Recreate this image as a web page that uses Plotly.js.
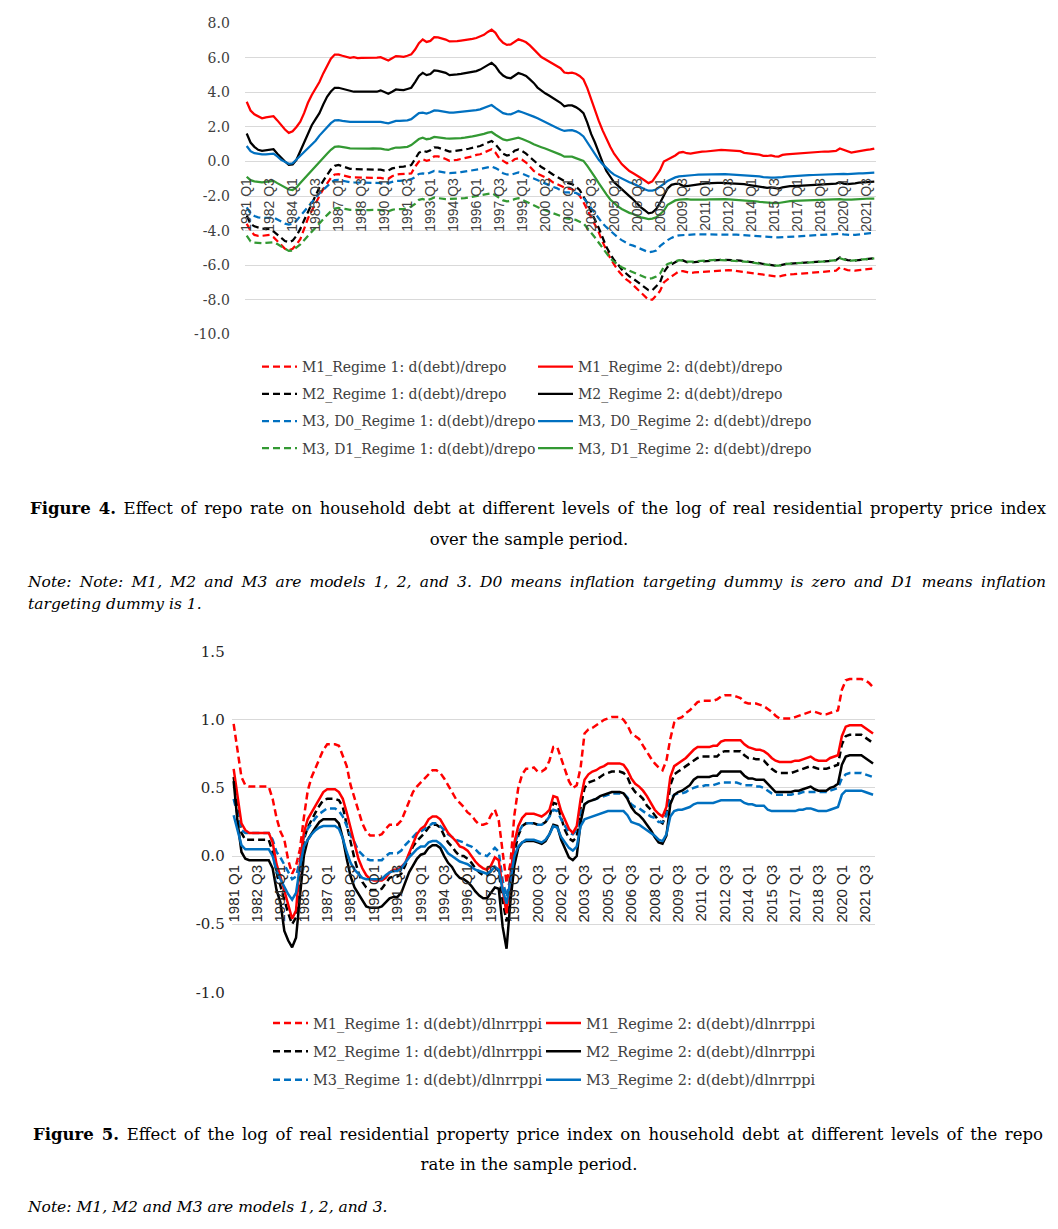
<!DOCTYPE html>
<html>
<head>
<meta charset="utf-8">
<script src="https://cdn.plot.ly/plotly-3.0.1.min.js"></script>
<style>
  html, body { margin:0; padding:0; background:#fff; }
  #page { position:relative; width:1058px; height:1229px; overflow:hidden; background:#fff; }
  #chart { position:absolute; left:0; top:0; width:1058px; height:1229px; }
  .cap { position:absolute; font-family:"DejaVu Serif", serif; color:#000; white-space:nowrap; }
  .just { text-align:justify; text-align-last:justify; white-space:normal; }
  .center { text-align:center; }
</style>
</head>
<body>
<div id="page">
  <div id="chart"></div>
  <div class="cap just" style="left:30px; top:497px; width:1016px; font-size:16.5px; line-height:24px;"><b>Figure 4.</b> Effect of repo rate on household debt at different levels of the log of real residential property price index</div>
  <div class="cap center" style="left:0px; top:528px; width:1058px; font-size:16.5px; line-height:24px;">over the sample period.</div>
  <div class="cap just" style="left:28px; top:571px; width:1018px; font-size:15.5px; line-height:22px; font-style:italic;">Note: Note: M1, M2 and M3 are models 1, 2, and 3. D0 means inflation targeting dummy is zero and D1 means inflation</div>
  <div class="cap" style="left:28px; top:593px; font-size:15.5px; line-height:22px; font-style:italic;">targeting dummy is 1.</div>
  <div class="cap just" style="left:33px; top:1123px; width:1010px; font-size:16.5px; line-height:24px;"><b>Figure 5.</b> Effect of the log of real residential property price index on household debt at different levels of the repo</div>
  <div class="cap center" style="left:0px; top:1153px; width:1058px; font-size:16.5px; line-height:24px;">rate in the sample period.</div>
  <div class="cap" style="left:28px; top:1196px; font-size:15.5px; line-height:22px; font-style:italic;">Note: M1, M2 and M3 are models 1, 2, and 3.</div>
</div>
<script>
// ---------- categories (quarters 1981 Q1 .. 2022 Q1) ----------
const firstYear = 1981, nQuarters = 165;
const quarters = [];
for (let k = 0; k < nQuarters; k++) {
  quarters.push((firstYear + Math.floor(k / 4)) + ' Q' + (k % 4 + 1));
}
const tickQuarters = quarters.filter((q, k) => k % 6 === 0);

// ---------- Figure 4 tick labels ----------
const fig4YTicks  = [-10, -8, -6, -4, -2, 0, 2, 4, 6, 8];
const fig4YLabels = ["-10.0", "-8.0", "-6.0", "-4.0", "-2.0", "0.0", "2.0", "4.0", "6.0", "8.0"];
// ---------- Figure 5 tick labels ----------
const fig5YTicks  = [-1, -0.5, 0, 0.5, 1, 1.5];
const fig5YLabels = ["-1.0", "-0.5", "0.0", "0.5", "1.0", "1.5"];

// ---------- Figure 4 series: d(debt)/drepo ----------
const m1_r1_drepo = [
 -3.6,-4.0,-4.25,-4.3,-4.3,-4.28,-4.25,-4.38,-4.6,-4.85,
 -5.05,-5.15,-5.05,-4.8,-4.5,-3.9,-3.3,-2.85,-2.4,-2.0,
 -1.6,-1.25,-0.95,-0.75,-0.73,-0.8,-0.87,-0.9,-0.92,-0.92,
 -0.92,-0.92,-0.92,-0.92,-0.92,-0.95,-1.0,-1.0,-0.85,-0.76,
 -0.73,-0.73,-0.72,-0.69,-0.3,0.0,0.13,0.04,0.1,0.3,
 0.3,0.23,0.15,0.04,0.05,0.1,0.15,0.2,0.23,0.3,
 0.38,0.42,0.52,0.62,0.71,0.52,0.2,0.04,-0.1,-0.05,
 0.13,0.19,0.1,-0.06,-0.3,-0.54,-0.7,-0.8,-0.9,-1.02,
 -1.2,-1.31,-1.42,-1.5,-1.55,-1.6,-1.75,-1.98,-2.35,-2.8,
 -3.25,-3.65,-4.1,-4.65,-5.15,-5.6,-5.95,-6.3,-6.55,-6.8,
 -6.95,-7.15,-7.35,-7.55,-7.75,-8.0,-8.0,-7.75,-7.5,-7.0,
 -6.8,-6.65,-6.5,-6.35,-6.35,-6.42,-6.45,-6.42,-6.4,-6.38,
 -6.36,-6.34,-6.32,-6.3,-6.28,-6.28,-6.28,-6.3,-6.33,-6.36,
 -6.4,-6.43,-6.46,-6.48,-6.52,-6.56,-6.6,-6.62,-6.65,-6.67,
 -6.6,-6.55,-6.53,-6.52,-6.5,-6.49,-6.47,-6.46,-6.44,-6.42,
 -6.4,-6.38,-6.37,-6.35,-6.32,-6.13,-6.22,-6.28,-6.3,-6.32,
 -6.28,-6.25,-6.22,-6.2,-6.19];
const m1_r2_drepo = [
 3.46,2.95,2.73,2.6,2.5,2.56,2.6,2.62,2.38,2.1,
 1.85,1.66,1.75,2.0,2.3,2.8,3.4,3.85,4.25,4.6,
 5.1,5.55,5.95,6.19,6.19,6.12,6.05,6.0,6.04,5.98,
 6.0,6.0,5.98,6.0,6.02,6.04,5.95,5.85,5.98,6.1,
 6.08,6.06,6.12,6.2,6.48,6.85,7.06,6.92,6.98,7.2,
 7.18,7.12,7.06,6.95,6.95,6.97,7.0,7.02,7.05,7.1,
 7.15,7.22,7.33,7.5,7.63,7.45,7.1,6.87,6.75,6.78,
 6.92,7.08,7.0,6.9,6.72,6.5,6.22,6.05,5.92,5.8,
 5.68,5.55,5.4,5.15,5.12,5.14,5.08,4.95,4.75,4.25,
 3.6,3.0,2.35,1.8,1.3,0.85,0.45,0.15,-0.15,-0.35,
 -0.55,-0.68,-0.8,-0.95,-1.1,-1.25,-1.15,-0.85,-0.5,0.0,
 0.12,0.2,0.35,0.52,0.55,0.48,0.46,0.5,0.55,0.57,
 0.58,0.61,0.62,0.64,0.67,0.66,0.64,0.62,0.61,0.6,
 0.5,0.48,0.47,0.46,0.4,0.33,0.32,0.36,0.3,0.29,
 0.38,0.42,0.44,0.46,0.48,0.48,0.5,0.52,0.52,0.54,
 0.56,0.58,0.58,0.6,0.61,0.75,0.66,0.6,0.52,0.56,
 0.61,0.64,0.67,0.7,0.75];
const m2_r1_drepo = [
 -3.13,-3.6,-3.75,-3.82,-3.88,-3.9,-3.9,-4.05,-4.25,-4.45,
 -4.6,-4.67,-4.58,-4.3,-3.9,-3.4,-2.9,-2.45,-1.95,-1.5,
 -1.12,-0.75,-0.45,-0.25,-0.2,-0.27,-0.36,-0.42,-0.44,-0.44,
 -0.44,-0.44,-0.44,-0.44,-0.44,-0.47,-0.53,-0.52,-0.4,-0.34,
 -0.31,-0.29,-0.26,-0.2,0.15,0.5,0.62,0.56,0.65,0.82,
 0.8,0.72,0.65,0.58,0.6,0.62,0.65,0.7,0.74,0.78,
 0.82,0.9,1.0,1.1,1.19,1.0,0.7,0.46,0.35,0.4,
 0.62,0.7,0.6,0.46,0.25,0.05,-0.15,-0.32,-0.45,-0.62,
 -0.75,-0.88,-1.0,-1.15,-1.25,-1.31,-1.45,-1.65,-2.05,-2.4,
 -2.9,-3.35,-3.85,-4.4,-4.95,-5.35,-5.7,-5.95,-6.25,-6.45,
 -6.65,-6.78,-6.95,-7.12,-7.27,-7.45,-7.45,-7.25,-7.0,-6.4,
 -6.1,-5.95,-5.82,-5.7,-5.72,-5.82,-5.84,-5.82,-5.8,-5.78,
 -5.75,-5.72,-5.7,-5.69,-5.69,-5.69,-5.69,-5.7,-5.72,-5.74,
 -5.76,-5.78,-5.8,-5.84,-5.88,-5.93,-5.97,-6.0,-6.02,-6.03,
 -5.97,-5.93,-5.91,-5.9,-5.88,-5.87,-5.85,-5.84,-5.82,-5.8,
 -5.79,-5.78,-5.76,-5.74,-5.71,-5.55,-5.65,-5.71,-5.72,-5.74,
 -5.7,-5.67,-5.65,-5.62,-5.59];
const m2_r2_drepo = [
 1.62,1.1,0.85,0.68,0.62,0.65,0.68,0.71,0.45,0.2,
 0.0,-0.19,-0.17,0.1,0.6,1.1,1.6,2.1,2.45,2.8,
 3.3,3.75,4.05,4.27,4.27,4.22,4.17,4.08,4.04,4.04,
 4.04,4.02,4.02,4.03,4.04,4.12,4.0,3.92,4.04,4.17,
 4.15,4.13,4.2,4.27,4.6,4.95,5.13,5.0,5.06,5.27,
 5.25,5.2,5.13,5.0,5.0,5.04,5.07,5.1,5.15,5.2,
 5.23,5.32,5.45,5.6,5.71,5.52,5.2,4.98,4.85,4.82,
 4.98,5.12,5.05,4.95,4.75,4.55,4.28,4.1,3.95,3.82,
 3.68,3.55,3.4,3.2,3.25,3.25,3.15,3.0,2.8,2.25,
 1.6,1.1,0.5,-0.05,-0.55,-0.9,-1.2,-1.4,-1.62,-1.8,
 -2.0,-2.2,-2.45,-2.65,-2.82,-3.0,-2.95,-2.75,-2.4,-1.95,
 -1.55,-1.35,-1.3,-1.3,-1.41,-1.42,-1.4,-1.36,-1.32,-1.3,
 -1.27,-1.25,-1.25,-1.24,-1.24,-1.25,-1.25,-1.25,-1.25,-1.27,
 -1.31,-1.35,-1.38,-1.41,-1.45,-1.5,-1.52,-1.5,-1.55,-1.56,
 -1.5,-1.45,-1.43,-1.42,-1.41,-1.4,-1.39,-1.38,-1.37,-1.36,
 -1.35,-1.33,-1.32,-1.3,-1.28,-1.2,-1.28,-1.31,-1.3,-1.26,
 -1.22,-1.21,-1.2,-1.18,-1.16];
const m3d0_r1_drepo = [
 -2.65,-3.0,-3.15,-3.23,-3.26,-3.27,-3.25,-3.23,-3.35,-3.48,
 -3.6,-3.65,-3.6,-3.42,-3.15,-2.85,-2.6,-2.35,-2.1,-1.85,
 -1.63,-1.42,-1.22,-1.08,-1.06,-1.11,-1.16,-1.2,-1.21,-1.21,
 -1.21,-1.21,-1.21,-1.21,-1.21,-1.22,-1.24,-1.25,-1.18,-1.12,
 -1.12,-1.12,-1.08,-1.02,-0.9,-0.72,-0.69,-0.73,-0.65,-0.54,
 -0.57,-0.62,-0.65,-0.67,-0.67,-0.64,-0.61,-0.58,-0.55,-0.5,
 -0.46,-0.44,-0.38,-0.33,-0.29,-0.38,-0.5,-0.68,-0.75,-0.77,
 -0.7,-0.63,-0.7,-0.8,-0.88,-0.97,-1.06,-1.16,-1.28,-1.37,
 -1.46,-1.54,-1.65,-1.78,-1.79,-1.79,-1.82,-1.92,-2.1,-2.4,
 -2.7,-3.0,-3.3,-3.58,-3.8,-4.0,-4.25,-4.4,-4.55,-4.68,
 -4.8,-4.87,-4.97,-5.05,-5.15,-5.25,-5.22,-5.15,-4.9,-4.72,
 -4.55,-4.42,-4.32,-4.27,-4.25,-4.24,-4.23,-4.22,-4.22,-4.22,
 -4.21,-4.21,-4.2,-4.2,-4.2,-4.2,-4.21,-4.22,-4.23,-4.25,
 -4.27,-4.29,-4.31,-4.33,-4.35,-4.37,-4.38,-4.39,-4.39,-4.39,
 -4.37,-4.35,-4.34,-4.34,-4.33,-4.32,-4.31,-4.3,-4.29,-4.28,
 -4.27,-4.26,-4.25,-4.23,-4.2,-4.18,-4.22,-4.25,-4.26,-4.24,
 -4.21,-4.19,-4.17,-4.15,-4.14];
const m3d0_r2_drepo = [
 0.9,0.6,0.48,0.44,0.42,0.42,0.44,0.46,0.3,0.1,
 -0.02,-0.13,-0.1,0.12,0.35,0.58,0.8,1.0,1.2,1.5,
 1.75,2.0,2.22,2.38,2.4,2.35,2.31,2.29,2.29,2.29,
 2.29,2.29,2.3,2.3,2.31,2.3,2.25,2.21,2.28,2.35,
 2.35,2.35,2.38,2.45,2.62,2.8,2.83,2.77,2.85,2.96,
 2.94,2.9,2.86,2.83,2.83,2.85,2.86,2.88,2.9,2.93,
 2.97,3.02,3.1,3.2,3.27,3.1,2.95,2.8,2.74,2.73,
 2.82,2.92,2.85,2.78,2.7,2.6,2.5,2.38,2.27,2.16,
 2.05,1.95,1.85,1.77,1.8,1.81,1.75,1.63,1.45,1.1,
 0.75,0.45,0.1,-0.15,-0.38,-0.58,-0.76,-0.88,-1.0,-1.1,
 -1.2,-1.28,-1.4,-1.5,-1.6,-1.69,-1.68,-1.62,-1.48,-1.3,
 -1.12,-1.0,-0.92,-0.86,-0.83,-0.81,-0.79,-0.78,-0.76,-0.75,
 -0.74,-0.73,-0.73,-0.73,-0.73,-0.73,-0.74,-0.75,-0.77,-0.79,
 -0.8,-0.81,-0.82,-0.83,-0.86,-0.9,-0.93,-0.93,-0.93,-0.93,
 -0.9,-0.87,-0.85,-0.83,-0.82,-0.81,-0.8,-0.79,-0.78,-0.77,
 -0.76,-0.75,-0.74,-0.72,-0.7,-0.69,-0.71,-0.73,-0.73,-0.71,
 -0.69,-0.68,-0.67,-0.65,-0.64];
const m3d1_r1_drepo = [
 -4.29,-4.62,-4.7,-4.73,-4.73,-4.71,-4.69,-4.67,-4.78,-4.92,
 -5.07,-5.17,-5.15,-5.0,-4.8,-4.55,-4.3,-4.05,-3.8,-3.55,
 -3.33,-3.1,-2.88,-2.72,-2.69,-2.71,-2.76,-2.8,-2.81,-2.81,
 -2.81,-2.81,-2.81,-2.8,-2.79,-2.81,-2.86,-2.88,-2.8,-2.75,
 -2.75,-2.75,-2.7,-2.6,-2.45,-2.22,-2.17,-2.25,-2.18,-2.08,
 -2.12,-2.16,-2.17,-2.17,-2.17,-2.15,-2.13,-2.12,-2.08,-2.03,
 -2.0,-1.98,-1.93,-1.87,-1.83,-1.95,-2.1,-2.25,-2.31,-2.27,
 -2.18,-2.12,-2.22,-2.33,-2.45,-2.56,-2.65,-2.74,-2.82,-2.9,
 -2.97,-3.04,-3.15,-3.27,-3.3,-3.32,-3.38,-3.48,-3.58,-3.85,
 -4.1,-4.4,-4.7,-5.0,-5.32,-5.6,-5.8,-5.97,-6.12,-6.22,
 -6.32,-6.4,-6.5,-6.6,-6.7,-6.79,-6.75,-6.65,-6.5,-6.1,
 -5.93,-5.85,-5.77,-5.71,-5.74,-5.8,-5.8,-5.78,-5.76,-5.74,
 -5.72,-5.71,-5.7,-5.69,-5.7,-5.71,-5.71,-5.73,-5.75,-5.77,
 -5.79,-5.81,-5.84,-5.88,-5.92,-5.96,-6.0,-6.03,-6.03,-6.03,
 -5.97,-5.93,-5.91,-5.9,-5.88,-5.87,-5.85,-5.84,-5.82,-5.8,
 -5.79,-5.78,-5.76,-5.74,-5.71,-5.59,-5.67,-5.74,-5.74,-5.74,
 -5.7,-5.67,-5.65,-5.63,-5.61];
const m3d1_r2_drepo = [
 -0.88,-1.08,-1.15,-1.2,-1.21,-1.18,-1.15,-1.12,-1.25,-1.38,
 -1.5,-1.62,-1.65,-1.5,-1.25,-1.0,-0.8,-0.55,-0.3,-0.05,
 0.19,0.45,0.68,0.85,0.87,0.85,0.8,0.76,0.75,0.75,
 0.75,0.75,0.75,0.76,0.77,0.75,0.7,0.67,0.75,0.81,
 0.81,0.81,0.85,0.95,1.1,1.3,1.38,1.29,1.33,1.42,
 1.4,1.36,1.34,1.33,1.33,1.35,1.36,1.38,1.4,1.45,
 1.5,1.54,1.6,1.67,1.71,1.55,1.4,1.28,1.23,1.27,
 1.33,1.38,1.3,1.22,1.12,1.0,0.9,0.83,0.75,0.66,
 0.58,0.52,0.4,0.28,0.27,0.28,0.2,0.1,0.04,-0.25,
 -0.54,-0.9,-1.25,-1.6,-1.9,-2.2,-2.42,-2.6,-2.75,-2.88,
 -2.97,-3.04,-3.15,-3.23,-3.28,-3.33,-3.3,-3.23,-3.05,-2.85,
 -2.5,-2.35,-2.25,-2.2,-2.18,-2.18,-2.2,-2.21,-2.22,-2.22,
 -2.2,-2.19,-2.18,-2.18,-2.18,-2.18,-2.19,-2.2,-2.21,-2.22,
 -2.24,-2.26,-2.28,-2.3,-2.33,-2.36,-2.39,-2.41,-2.41,-2.4,
 -2.35,-2.3,-2.29,-2.28,-2.27,-2.26,-2.25,-2.24,-2.23,-2.23,
 -2.22,-2.22,-2.21,-2.2,-2.19,-2.17,-2.2,-2.22,-2.21,-2.19,
 -2.17,-2.16,-2.15,-2.14,-2.14];

// ---------- Figure 5 series: d(debt)/dlnrrppi ----------
const m1_r1_dlnrrppi = [
 0.97,0.76,0.58,0.52,0.51,0.51,0.51,0.51,0.51,0.51,
 0.42,0.28,0.18,0.12,-0.03,-0.13,-0.07,0.05,0.28,0.48,
 0.58,0.65,0.72,0.78,0.82,0.82,0.82,0.81,0.74,0.66,
 0.52,0.43,0.33,0.24,0.18,0.15,0.15,0.15,0.16,0.2,
 0.23,0.23,0.23,0.26,0.33,0.4,0.47,0.51,0.54,0.57,
 0.6,0.63,0.63,0.61,0.57,0.52,0.48,0.42,0.39,0.36,
 0.32,0.3,0.26,0.23,0.23,0.24,0.3,0.34,0.26,0.02,
 -0.2,-0.05,0.3,0.5,0.6,0.64,0.64,0.65,0.62,0.62,
 0.64,0.7,0.8,0.8,0.72,0.63,0.55,0.5,0.52,0.65,
 0.9,0.93,0.94,0.96,0.98,1.0,1.01,1.02,1.02,1.02,
 1.0,0.96,0.9,0.88,0.86,0.81,0.76,0.72,0.68,0.65,
 0.63,0.7,0.86,0.98,1.01,1.02,1.05,1.07,1.1,1.13,
 1.14,1.14,1.14,1.14,1.15,1.17,1.18,1.18,1.18,1.17,
 1.16,1.13,1.12,1.12,1.12,1.11,1.1,1.08,1.06,1.03,
 1.01,1.01,1.01,1.01,1.02,1.03,1.04,1.05,1.06,1.06,
 1.05,1.04,1.04,1.05,1.06,1.07,1.22,1.29,1.3,1.3,
 1.3,1.3,1.29,1.27,1.24];
const m1_r2_dlnrrppi = [
 0.64,0.45,0.24,0.19,0.17,0.17,0.17,0.17,0.17,0.17,
 0.1,-0.06,-0.15,-0.25,-0.36,-0.46,-0.4,-0.05,0.17,0.27,
 0.32,0.37,0.42,0.47,0.49,0.49,0.49,0.47,0.42,0.32,
 0.2,0.09,-0.02,-0.09,-0.14,-0.17,-0.18,-0.18,-0.18,-0.16,
 -0.12,-0.1,-0.1,-0.08,-0.05,0.02,0.09,0.16,0.2,0.22,
 0.27,0.29,0.29,0.27,0.22,0.17,0.14,0.11,0.07,0.06,
 0.04,0.0,-0.04,-0.07,-0.09,-0.1,-0.07,-0.01,-0.03,-0.25,
 -0.42,-0.15,0.1,0.22,0.28,0.31,0.31,0.31,0.3,0.29,
 0.31,0.34,0.44,0.43,0.33,0.26,0.2,0.17,0.22,0.42,
 0.56,0.6,0.62,0.63,0.65,0.66,0.68,0.68,0.68,0.68,
 0.67,0.63,0.57,0.53,0.51,0.48,0.44,0.39,0.34,0.31,
 0.29,0.36,0.58,0.66,0.68,0.7,0.72,0.75,0.78,0.8,
 0.8,0.8,0.8,0.81,0.81,0.84,0.85,0.85,0.85,0.85,
 0.85,0.82,0.8,0.79,0.78,0.78,0.77,0.75,0.72,0.7,
 0.69,0.69,0.69,0.69,0.7,0.7,0.71,0.72,0.73,0.71,
 0.7,0.7,0.7,0.72,0.73,0.74,0.88,0.95,0.96,0.96,
 0.96,0.96,0.94,0.92,0.9];
const m2_r1_dlnrrppi = [
 0.58,0.36,0.17,0.12,0.12,0.12,0.12,0.12,0.12,0.12,
 0.03,-0.12,-0.22,-0.33,-0.42,-0.5,-0.45,-0.1,0.12,0.21,
 0.27,0.32,0.37,0.41,0.42,0.42,0.42,0.41,0.36,0.23,
 0.1,-0.02,-0.12,-0.19,-0.23,-0.25,-0.25,-0.25,-0.24,-0.2,
 -0.16,-0.15,-0.15,-0.13,-0.07,0.01,0.07,0.11,0.14,0.17,
 0.21,0.23,0.23,0.21,0.15,0.1,0.07,0.03,0.0,0.0,
 -0.02,-0.05,-0.09,-0.12,-0.14,-0.14,-0.11,-0.08,-0.11,-0.33,
 -0.48,-0.22,0.03,0.15,0.22,0.24,0.24,0.24,0.23,0.23,
 0.25,0.29,0.39,0.38,0.28,0.19,0.13,0.11,0.14,0.36,
 0.5,0.54,0.55,0.56,0.58,0.6,0.61,0.62,0.62,0.62,
 0.61,0.58,0.51,0.47,0.45,0.42,0.37,0.34,0.3,0.26,
 0.24,0.31,0.52,0.6,0.62,0.64,0.66,0.68,0.7,0.72,
 0.73,0.73,0.73,0.73,0.73,0.76,0.77,0.77,0.77,0.77,
 0.77,0.74,0.72,0.72,0.71,0.71,0.7,0.67,0.64,0.62,
 0.61,0.61,0.61,0.61,0.62,0.63,0.64,0.65,0.66,0.65,
 0.64,0.64,0.64,0.65,0.66,0.67,0.82,0.88,0.89,0.89,
 0.89,0.89,0.87,0.85,0.83];
const m2_r2_dlnrrppi = [
 0.55,0.25,0.03,-0.02,-0.03,-0.03,-0.03,-0.03,-0.03,-0.03,
 -0.09,-0.25,-0.34,-0.55,-0.62,-0.67,-0.6,-0.3,0.0,0.12,
 0.17,0.21,0.25,0.27,0.27,0.27,0.27,0.24,0.13,-0.02,
 -0.15,-0.23,-0.28,-0.33,-0.37,-0.38,-0.38,-0.38,-0.37,-0.34,
 -0.31,-0.3,-0.3,-0.27,-0.2,-0.12,-0.07,-0.02,0.01,0.02,
 0.06,0.08,0.08,0.06,0.0,-0.05,-0.08,-0.13,-0.16,-0.17,
 -0.19,-0.22,-0.26,-0.29,-0.31,-0.31,-0.27,-0.23,-0.24,-0.52,
 -0.68,-0.33,-0.07,0.06,0.1,0.11,0.11,0.11,0.1,0.09,
 0.11,0.16,0.23,0.22,0.12,0.06,-0.01,-0.03,0.0,0.25,
 0.38,0.4,0.41,0.42,0.44,0.45,0.46,0.47,0.47,0.47,
 0.46,0.42,0.36,0.32,0.3,0.27,0.23,0.19,0.14,0.1,
 0.09,0.15,0.38,0.45,0.47,0.48,0.5,0.52,0.56,0.58,
 0.58,0.58,0.58,0.59,0.59,0.62,0.62,0.62,0.62,0.62,
 0.62,0.59,0.57,0.57,0.56,0.56,0.56,0.53,0.5,0.47,
 0.47,0.47,0.47,0.47,0.48,0.48,0.49,0.5,0.51,0.49,
 0.48,0.48,0.48,0.5,0.51,0.53,0.67,0.73,0.74,0.74,
 0.74,0.74,0.72,0.7,0.68];
const m3_r1_dlnrrppi = [
 0.42,0.3,0.19,0.17,0.17,0.17,0.17,0.17,0.17,0.17,
 0.12,0.03,-0.01,-0.06,-0.12,-0.17,-0.15,-0.03,0.14,0.2,
 0.24,0.28,0.31,0.33,0.35,0.35,0.35,0.33,0.29,0.22,
 0.15,0.1,0.04,0.01,-0.02,-0.03,-0.03,-0.03,-0.03,0.0,
 0.02,0.02,0.02,0.04,0.08,0.11,0.14,0.17,0.18,0.2,
 0.22,0.24,0.24,0.22,0.19,0.16,0.14,0.12,0.11,0.1,
 0.08,0.07,0.05,0.02,0.01,0.0,0.03,0.06,0.03,-0.18,
 -0.3,-0.15,0.08,0.17,0.22,0.24,0.24,0.24,0.23,0.23,
 0.25,0.29,0.34,0.33,0.27,0.22,0.17,0.16,0.19,0.33,
 0.38,0.4,0.41,0.42,0.43,0.44,0.45,0.46,0.46,0.46,
 0.46,0.43,0.38,0.36,0.35,0.33,0.31,0.29,0.28,0.25,
 0.25,0.3,0.42,0.45,0.46,0.46,0.47,0.49,0.5,0.51,
 0.51,0.52,0.52,0.52,0.53,0.54,0.54,0.54,0.54,0.54,
 0.53,0.52,0.52,0.52,0.51,0.51,0.5,0.48,0.46,0.45,
 0.45,0.45,0.45,0.45,0.46,0.46,0.47,0.47,0.47,0.47,
 0.47,0.47,0.47,0.48,0.49,0.5,0.57,0.6,0.61,0.61,
 0.61,0.61,0.6,0.59,0.58];
const m3_r2_dlnrrppi = [
 0.3,0.18,0.08,0.05,0.05,0.05,0.05,0.05,0.05,0.05,
 0.0,-0.11,-0.17,-0.23,-0.28,-0.32,-0.27,-0.08,0.07,0.12,
 0.16,0.19,0.21,0.22,0.22,0.22,0.22,0.2,0.13,0.03,
 -0.05,-0.1,-0.13,-0.16,-0.17,-0.17,-0.17,-0.17,-0.17,-0.14,
 -0.12,-0.11,-0.11,-0.09,-0.05,-0.01,0.02,0.05,0.07,0.07,
 0.1,0.11,0.11,0.09,0.06,0.02,0.0,-0.02,-0.04,-0.05,
 -0.06,-0.08,-0.1,-0.11,-0.12,-0.13,-0.11,-0.08,-0.1,-0.25,
 -0.35,-0.18,0.0,0.07,0.1,0.12,0.12,0.12,0.11,0.1,
 0.12,0.16,0.22,0.21,0.14,0.1,0.06,0.04,0.07,0.22,
 0.27,0.28,0.29,0.3,0.31,0.32,0.33,0.33,0.33,0.33,
 0.33,0.3,0.25,0.24,0.23,0.21,0.19,0.17,0.15,0.12,
 0.11,0.16,0.29,0.33,0.34,0.34,0.35,0.36,0.38,0.39,
 0.39,0.39,0.39,0.39,0.4,0.41,0.41,0.41,0.41,0.41,
 0.41,0.39,0.38,0.38,0.37,0.37,0.37,0.34,0.33,0.33,
 0.33,0.33,0.33,0.33,0.33,0.34,0.34,0.35,0.35,0.34,
 0.33,0.33,0.33,0.34,0.35,0.36,0.45,0.48,0.48,0.48,
 0.48,0.48,0.47,0.46,0.45];

// ---------- series definitions ----------
const RED = '#ff0000', BLACK = '#000000', BLUE = '#0070c0', GREEN = '#339933';
const DASH = '7px,4px';

function tr(y, name, color, dashed, xa, ya, leg, w) {
  return {
    type: 'scatter', mode: 'lines', x: quarters, y: y, name: name,
    xaxis: xa, yaxis: ya, legend: leg, legendgroup: name,
    line: { color: color, width: w, dash: dashed ? DASH : 'solid' },
    hoverinfo: 'skip'
  };
}

const W4 = 2.25, W5 = 2.5;
const data = [
  tr(m1_r1_drepo,   'M1_Regime 1: d(debt)/drepo',     RED,   true,  'x', 'y', 'legend',  W4),
  tr(m2_r1_drepo,   'M2_Regime 1: d(debt)/drepo',     BLACK, true,  'x', 'y', 'legend',  W4),
  tr(m3d0_r1_drepo, 'M3, D0_Regime 1: d(debt)/drepo', BLUE,  true,  'x', 'y', 'legend',  W4),
  tr(m3d1_r1_drepo, 'M3, D1_Regime 1: d(debt)/drepo', GREEN, true,  'x', 'y', 'legend',  W4),
  tr(m1_r2_drepo,   'M1_Regime 2: d(debt)/drepo',     RED,   false, 'x', 'y', 'legend2', W4),
  tr(m2_r2_drepo,   'M2_Regime 2: d(debt)/drepo',     BLACK, false, 'x', 'y', 'legend2', W4),
  tr(m3d0_r2_drepo, 'M3, D0_Regime 2: d(debt)/drepo', BLUE,  false, 'x', 'y', 'legend2', W4),
  tr(m3d1_r2_drepo, 'M3, D1_Regime 2: d(debt)/drepo', GREEN, false, 'x', 'y', 'legend2', W4),

  tr(m1_r1_dlnrrppi, 'M1_Regime 1: d(debt)/dlnrrppi', RED,   true,  'x2', 'y2', 'legend3', W5),
  tr(m2_r1_dlnrrppi, 'M2_Regime 1: d(debt)/dlnrrppi', BLACK, true,  'x2', 'y2', 'legend3', W5),
  tr(m3_r1_dlnrrppi, 'M3_Regime 1: d(debt)/dlnrrppi', BLUE,  true,  'x2', 'y2', 'legend3', W5),
  tr(m1_r2_dlnrrppi, 'M1_Regime 2: d(debt)/dlnrrppi', RED,   false, 'x2', 'y2', 'legend4', W5),
  tr(m2_r2_dlnrrppi, 'M2_Regime 2: d(debt)/dlnrrppi', BLACK, false, 'x2', 'y2', 'legend4', W5),
  tr(m3_r2_dlnrrppi, 'M3_Regime 2: d(debt)/dlnrrppi', BLUE,  false, 'x2', 'y2', 'legend4', W5)
];

const H = 1229, Wd = 1058;
const px = v => v / Wd;
const py = v => 1 - v / H;

function xAxis(dom, pos, size, color, standoff) {
  return {
    type: 'category', categoryorder: 'array', categoryarray: quarters,
    domain: dom, anchor: 'free', position: pos,
    range: [-0.5, nQuarters - 0.5],
    tickmode: 'array', tickvals: tickQuarters, ticktext: tickQuarters,
    tickangle: -90, ticks: '', showgrid: false, zeroline: false, showline: false,
    ticklabelstandoff: standoff,
    tickfont: { family: '"Liberation Sans", Arial, sans-serif', size: size, color: color },
    fixedrange: true
  };
}
function yAxis(dom, anchor, rng, vals, labels, size, color, standoff) {
  return {
    domain: dom, anchor: anchor, range: rng,
    tickmode: 'array', tickvals: vals, ticktext: labels,
    showgrid: true, gridcolor: '#d9d9d9', gridwidth: 1,
    zeroline: false, showline: false, ticks: '',
    ticklabelstandoff: standoff,
    tickfont: { family: '"DejaVu Serif", serif', size: size, color: color },
    fixedrange: true
  };
}
function legendBox(x, yTop, size, gap) {
  return {
    x: px(x), xanchor: 'left', y: py(yTop), yanchor: 'top',
    orientation: 'v', traceorder: 'grouped', tracegroupgap: gap,
    bgcolor: 'rgba(0,0,0,0)', borderwidth: 0, itemwidth: 35,
    font: { family: '"DejaVu Serif", serif', size: size, color: '#404040' }
  };
}

const layout = {
  width: Wd, height: H,
  margin: { l: 0, r: 0, t: 0, b: 0 },
  paper_bgcolor: '#ffffff', plot_bgcolor: 'rgba(0,0,0,0)',
  hovermode: false, showlegend: true,
  xaxis:  xAxis([px(244.8), px(876.2)], py(162.3), 14, '#404040', 12),
  yaxis:  yAxis([py(334.3), py(23.3)], 'x', [-10, 8], fig4YTicks, fig4YLabels, 14, '#404040', 14),
  xaxis2: xAxis([px(231.7), px(875)], py(856), 15, '#262626', 5),
  yaxis2: yAxis([py(992.3), py(651.7)], 'x2', [-1, 1.5], fig5YTicks, fig5YLabels, 15, '#262626', 6),
  legend:  legendBox(257, 351, 14, 6),
  legend2: legendBox(533, 351, 14, 6),
  legend3: legendBox(268, 1007, 14.5, 6.5),
  legend4: legendBox(541, 1007, 14.5, 6.5)
};

Plotly.newPlot('chart', data, layout, { staticPlot: true, displayModeBar: false });
</script>
</body>
</html>
